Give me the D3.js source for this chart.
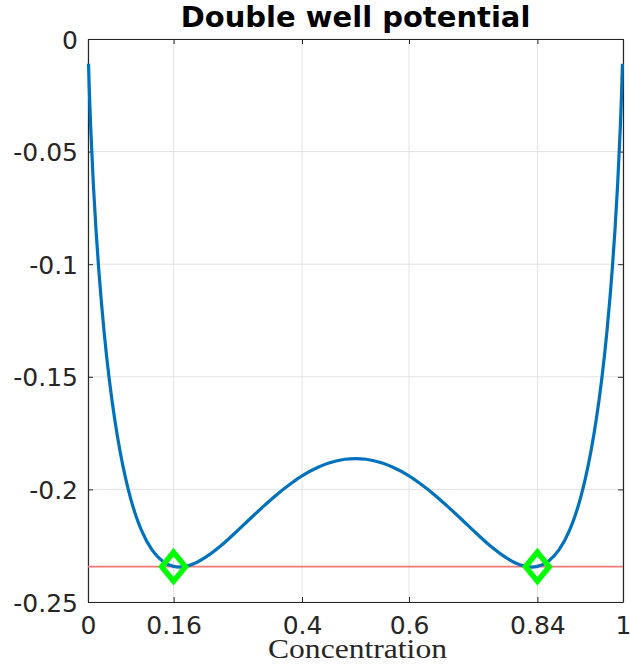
<!DOCTYPE html>
<html>
<head>
<meta charset="utf-8">
<script src="https://cdn.jsdelivr.net/npm/d3@7"></script>
<style>
  html, body { margin: 0; padding: 0; background: #fff; }
  svg { display: block; }
</style>
</head>
<body>
<svg id="chart" width="630" height="666"></svg>
<script>
// Free energy of the mixture vs. concentration
const concentration = [
  0.001, 0.0025, 0.005, 0.01, 0.015, 0.02, 0.03, 0.04, 0.05, 0.06, 0.07, 0.08, 0.09,
  0.10, 0.12, 0.14, 0.16, 0.17, 0.18, 0.20, 0.22, 0.25, 0.28, 0.30, 0.33, 0.35, 0.38,
  0.40, 0.43, 0.45, 0.48, 0.50,
  0.52, 0.55, 0.57, 0.60, 0.62, 0.65, 0.67, 0.70, 0.72, 0.75, 0.78, 0.80, 0.82, 0.83,
  0.84, 0.86, 0.88, 0.90, 0.91, 0.92, 0.93, 0.94, 0.95, 0.96, 0.97, 0.98, 0.985, 0.99,
  0.995, 0.9975, 0.999
];
const potential = [
  -0.0110, -0.0230, -0.0391, -0.0645, -0.0849, -0.1020, -0.1298, -0.1516, -0.1690, -0.1832, -0.1948, -0.2043, -0.2120,
  -0.2182, -0.2270, -0.2320, -0.2342, -0.2345, -0.2343, -0.2328, -0.2301, -0.2247, -0.2182, -0.2137, -0.2071, -0.2029, -0.1973,
  -0.1940, -0.1902, -0.1883, -0.1866, -0.1863,
  -0.1866, -0.1883, -0.1902, -0.1940, -0.1973, -0.2029, -0.2071, -0.2137, -0.2182, -0.2247, -0.2301, -0.2328, -0.2343, -0.2345,
  -0.2342, -0.2320, -0.2270, -0.2182, -0.2120, -0.2043, -0.1948, -0.1832, -0.1690, -0.1516, -0.1298, -0.1020, -0.0849, -0.0645,
  -0.0391, -0.0230, -0.0110
];
// Binodal points (common tangent level)
const wellX = [0.16, 0.84];
const wellLevel = -0.2343;

const xTicks = [0, 0.16, 0.4, 0.6, 0.84, 1];
const xTickLabels = ["0", "0.16", "0.4", "0.6", "0.84", "1"];
const yTicks = [0, -0.05, -0.1, -0.15, -0.2, -0.25];
const yTickLabels = ["0", "-0.05", "-0.1", "-0.15", "-0.2", "-0.25"];

const titleText = "Double well potential";
const xLabelText = "Concentration";

const svg = d3.select("#chart");
const plotL = 88, plotR = 623, plotT = 39, plotB = 602;

const x = d3.scaleLinear().domain([0, 1]).range([plotL, plotR]);
const y = d3.scaleLinear().domain([-0.25, 0]).range([plotB, plotT]);

const axisColor = "#262626";
const tickFont = "'DejaVu Sans', sans-serif";

// grid
const grid = svg.append("g");
grid.selectAll("line.gx").data(xTicks).join("line")
  .attr("x1", d => x(d)).attr("x2", d => x(d))
  .attr("y1", plotT).attr("y2", plotB)
  .attr("stroke", "#e3e3e3").attr("stroke-width", 1);
grid.selectAll("line.gy").data(yTicks).join("line")
  .attr("y1", d => y(d)).attr("y2", d => y(d))
  .attr("x1", plotL).attr("x2", plotR)
  .attr("stroke", "#e3e3e3").attr("stroke-width", 1);

// axes with inward ticks
const fmtX = (d, i) => xTickLabels[i];
const fmtY = (d, i) => yTickLabels[i];

const xAxis = svg.append("g").attr("transform", `translate(0,${plotB})`)
  .call(d3.axisBottom(x).tickValues(xTicks).tickFormat(fmtX).tickSizeInner(-5).tickSizeOuter(0).tickPadding(14));
const xAxisTop = svg.append("g").attr("transform", `translate(0,${plotT})`)
  .call(d3.axisTop(x).tickValues(xTicks).tickFormat("").tickSizeInner(-5).tickSizeOuter(0));
const yAxis = svg.append("g").attr("transform", `translate(${plotL},0)`)
  .call(d3.axisLeft(y).tickValues(yTicks).tickFormat(fmtY).tickSizeInner(-5).tickSizeOuter(0).tickPadding(10));
const yAxisRight = svg.append("g").attr("transform", `translate(${plotR},0)`)
  .call(d3.axisRight(y).tickValues(yTicks).tickFormat("").tickSizeInner(-5).tickSizeOuter(0));

[xAxis, xAxisTop, yAxis, yAxisRight].forEach(g => {
  g.select(".domain").attr("stroke", axisColor).attr("stroke-width", 1.2);
  g.selectAll(".tick line").attr("stroke", axisColor).attr("stroke-width", 1);
  g.selectAll("text").attr("fill", axisColor).attr("font-family", tickFont).attr("font-size", 25);
});
xAxis.selectAll("text").attr("dy", "0.71em");
yAxis.selectAll("text").attr("dy", "0.36em");

// common tangent line
svg.append("line")
  .attr("x1", x(0)).attr("x2", x(1))
  .attr("y1", y(wellLevel)).attr("y2", y(wellLevel))
  .attr("stroke", "#f27878").attr("stroke-width", 1.8);

// potential curve
const pts = concentration.map((c, i) => [c, potential[i]]);
svg.append("path")
  .datum(pts)
  .attr("fill", "none")
  .attr("stroke", "#0072BD")
  .attr("stroke-width", 3.2)
  .attr("stroke-linejoin", "round")
  .attr("d", d3.line().x(d => x(d[0])).y(d => y(d[1])).curve(d3.curveMonotoneX));

// diamond markers (slightly taller than wide)
const wideDiamond = {
  draw(ctx, size) {
    const h = Math.sqrt(size) / 2;
    const w = h * 0.82;
    ctx.moveTo(0, -h);
    ctx.lineTo(w, 0);
    ctx.lineTo(0, h);
    ctx.lineTo(-w, 0);
    ctx.closePath();
  }
};
const diamond = d3.symbol().type(wideDiamond).size(840);
svg.selectAll("path.marker").data(wellX).join("path")
  .attr("class", "marker")
  .attr("transform", d => `translate(${x(d)},${y(wellLevel)})`)
  .attr("d", diamond)
  .attr("fill", "none")
  .attr("stroke", "#00ff00")
  .attr("stroke-width", 5.5)
  .attr("stroke-linejoin", "miter");

// title
svg.append("text")
  .attr("x", (plotL + plotR) / 2).attr("y", 27)
  .attr("text-anchor", "middle")
  .attr("font-family", tickFont)
  .attr("font-weight", "bold")
  .attr("font-size", 29)
  .attr("fill", "#000")
  .text(titleText);

// x label
svg.append("text")
  .attr("x", (plotL + plotR) / 2 + 2).attr("y", 658)
  .attr("text-anchor", "middle")
  .attr("font-family", "'Liberation Serif', 'DejaVu Serif', serif")
  .attr("font-size", 27)
  .attr("fill", axisColor)
  .attr("textLength", 179)
  .attr("lengthAdjust", "spacingAndGlyphs")
  .text(xLabelText);
</script>
</body>
</html>
